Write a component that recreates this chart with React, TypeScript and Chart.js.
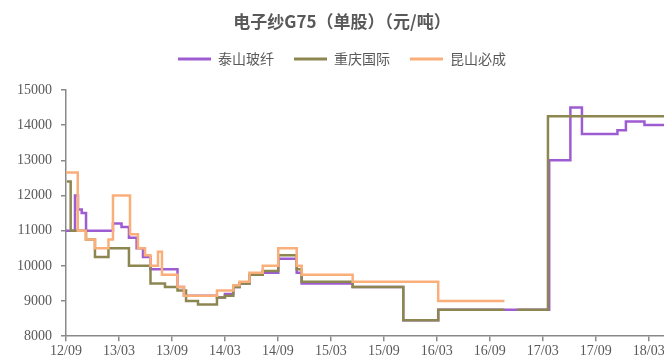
import React, { useEffect, useRef } from "react";
import { Chart, registerables } from "chart.js";

Chart.register(...registerables);

const titleText = "电子纱G75（单股）（元/吨）";

// x values are months since 2012-09
const xTickMonths = [0, 6, 12, 18, 24, 30, 36, 42, 48, 54, 60, 66];
const xTickLabels = ["12/09", "13/03", "13/09", "14/03", "14/09", "15/03", "15/09", "16/03", "16/09", "17/03", "17/09", "18/03"];

const seriesNames = ["泰山玻纤", "重庆国际", "昆山必成"];
const seriesColors = ["#9E5CD2", "#8C8651", "#FAAF7B"];

const taishanMonths = [0, 1.02, 1.36, 1.78, 2.27, 5.32, 6.29, 7.13, 8.0, 8.72, 9.57, 12.63, 13.36, 17.1, 18.0, 18.95, 19.65, 20.78, 22.28, 24.04, 26.13, 26.69, 32.47, 38.2, 42.16, 54.73, 57.13, 58.44, 62.46, 63.42, 65.52, 70];
const taishanPrices = [11000, 12000, 11600, 11500, 11000, 11200, 11100, 10800, 10500, 10250, 9900, 9400, 9150, 9100, 9200, 9400, 9500, 9750, 9800, 10200, 9800, 9500, 9400, 8450, 8750, 13000, 14500, 13750, 13850, 14100, 14000, 14000];

const chongqingMonths = [0.1, 0.53, 2.27, 3.28, 4.81, 7.13, 9.57, 11.21, 12.63, 13.6, 14.95, 17.1, 18.0, 18.95, 19.65, 20.78, 22.28, 24.04, 26.13, 26.69, 32.47, 38.2, 42.16, 49.66, 50.3, 51.07, 54.59, 70];
const chongqingPrices = [12400, 11000, 10750, 10250, 10500, 10000, 9500, 9400, 9300, 9000, 8900, 9100, 9150, 9400, 9500, 9750, 9850, 10300, 9900, 9550, 9400, 8450, 8750, 8750, null, 8750, 14250, 14250];

const kunshanMonths = [0, 1.33, 2.23, 3.28, 4.81, 5.32, 7.25, 8.15, 8.95, 9.57, 10.42, 10.87, 12.63, 13.36, 17.1, 18.95, 19.65, 20.78, 22.28, 24.04, 26.13, 26.69, 32.47, 42.16, 49.66];
const kunshanPrices = [12650, 11000, 10750, 10500, 10750, 12000, 10900, 10500, 10300, 10000, 10400, 9750, 9400, 9150, 9300, 9450, 9550, 9800, 10000, 10500, 10000, 9750, 9550, 9000, 9000];

const yMin = 8000;
const yMax = 15000;
const yStep = 1000;
const xMin = 0;
const xMax = 70;

const toPoints = (xs: number[], ys: (number | null)[]) => xs.map((x, i) => ({ x, y: ys[i] }));

const axisColor = "#898989";
const textColor = "#595959";
const serifFont = "'Liberation Serif', serif";
const cjkFont = "'Noto Sans CJK SC', sans-serif";

export default function App() {
  const canvasRef = useRef<HTMLCanvasElement | null>(null);

  useEffect(() => {
    let chart: any = null;
    let cancelled = false;
    const build = () => {
      if (cancelled || !canvasRef.current) return;
      const allSeries = [
        toPoints(taishanMonths, taishanPrices),
        toPoints(chongqingMonths, chongqingPrices),
        toPoints(kunshanMonths, kunshanPrices),
      ];
      const drawOrder = [3, 2, 1];
      chart = new Chart(canvasRef.current, {
        type: "line",
        data: {
          datasets: allSeries.map((pts, i) => ({
            label: seriesNames[i],
            data: pts,
            borderColor: seriesColors[i],
            backgroundColor: seriesColors[i],
            borderWidth: 2.5,
            pointRadius: 0,
            stepped: true,
            fill: false,
            spanGaps: false,
            order: drawOrder[i],
          })),
        },
        options: {
          animation: false,
          responsive: false,
          devicePixelRatio: 1,
          layout: { padding: { top: 0, left: 0, right: 0, bottom: 0 } },
          plugins: {
            title: {
              display: true,
              text: titleText,
              color: textColor,
              font: { family: cjkFont, size: 17, weight: "bold", lineHeight: 1.2 },
              padding: { top: 11.5, bottom: 0 },
            },
            subtitle: {
              display: true,
              text: "",
              position: "top",
              weight: 500,
              font: { size: 1, lineHeight: 1 },
              padding: { top: 0, bottom: 13 },
            },
            legend: {
              display: true,
              position: "top",
              labels: {
                boxWidth: 33,
                boxHeight: 3,
                padding: 20,
                color: textColor,
                font: { family: cjkFont, size: 14 },
                generateLabels: (c: any) =>
                  c.data.datasets.map((ds: any, i: number) => ({
                    text: ds.label,
                    fillStyle: ds.borderColor,
                    strokeStyle: ds.borderColor,
                    lineWidth: 0,
                    hidden: false,
                    datasetIndex: i,
                    fontColor: textColor,
                  })),
              },
            },
            tooltip: { enabled: false },
          },
          scales: {
            x: {
              type: "linear",
              min: xMin,
              max: xMax,
              afterBuildTicks: (s: any) => {
                s.ticks = xTickMonths.map((v) => ({ value: v }));
              },
              ticks: {
                autoSkip: false,
                maxRotation: 0,
                padding: 2,
                color: textColor,
                font: { family: serifFont, size: 14 },
                callback: (_v: any, idx: number) => xTickLabels[idx],
              },
              grid: { display: true, drawOnChartArea: false, drawTicks: true, tickLength: 5, color: axisColor, lineWidth: 1.5 },
              border: { display: true, color: axisColor, width: 1.5 },
            },
            y: {
              type: "linear",
              min: yMin,
              max: yMax,
              afterFit: (s: any) => {
                s.width = 66;
              },
              ticks: {
                stepSize: yStep,
                padding: 9,
                color: textColor,
                font: { family: serifFont, size: 14 },
                callback: (v: any) => String(v),
              },
              grid: { display: true, drawOnChartArea: false, drawTicks: true, tickLength: 5, color: axisColor, lineWidth: 1.5 },
              border: { display: true, color: axisColor, width: 1.5 },
            },
          },
        },
      } as any);
    };
    const fontsApi: any = (document as any).fonts;
    if (fontsApi && fontsApi.load) {
      Promise.all([
        fontsApi.load("14px 'Liberation Serif'"),
        fontsApi.load("bold 17px 'Noto Sans CJK SC'", "电子纱"),
        fontsApi.load("14px 'Noto Sans CJK SC'", "泰山玻纤"),
      ])
        .catch(() => null)
        .then(build);
    } else {
      build();
    }
    return () => {
      cancelled = true;
      if (chart) chart.destroy();
    };
  }, []);

  return (
    <div style={{ position: "fixed", left: 0, top: 0, width: 664, height: 362, overflow: "hidden", background: "#fff" }}>
      <canvas ref={canvasRef} width={684} height={362} style={{ display: "block", width: 684, height: 362 }} />
    </div>
  );
}
